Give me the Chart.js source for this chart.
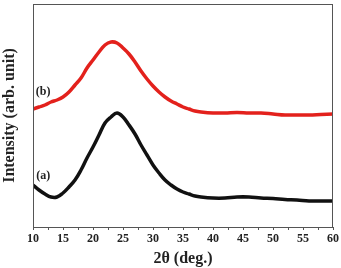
<!DOCTYPE html>
<html>
<head>
<meta charset="utf-8">
<script src="https://cdn.jsdelivr.net/npm/chart.js@4"></script>
<style>
    html, body { margin: 0; padding: 0; background: #fff; }
    #wrap { width: 341px; height: 268px; position: relative; }
</style>
</head>
<body>
<div id="wrap"><canvas id="xrd"></canvas></div>
<script>
// 2θ positions (deg.)
const twoTheta = [10, 11, 12, 13, 14, 15, 16, 17, 18, 19, 20, 21, 22, 23, 24, 25, 26, 27, 28, 29,
    30, 31, 32, 33, 34, 35, 36, 37, 38, 40, 42, 44, 46, 48, 50, 52, 54, 56, 58, 60];

// curve (a), black
const curveA = [44, 39, 35, 32, 32, 36, 42, 49, 59, 71, 82, 94, 106, 112, 116, 112, 104, 95, 84, 74,
    64, 56, 49, 44, 40, 37, 35, 33, 32, 31, 31, 32, 32, 31, 30.5, 29.5, 29, 28, 28, 28];

// curve (b), red
const curveB = [120, 122, 124, 127, 129, 132, 137, 144, 151, 161, 169, 177, 184, 187, 186, 181, 175, 167, 158, 150,
    143, 137, 132, 128, 125, 122, 120, 118, 117, 116, 116, 116.5, 116, 116, 115, 114, 114, 114, 114.5, 115];

const xTicks = [10, 15, 20, 25, 30, 35, 40, 45, 50, 55, 60];

// curve tags, placed in data units
const tags = [
    { text: "(b)", x: 11.7, y: 137 },
    { text: "(a)", x: 11.7, y: 53 }
];

const serif = "'Liberation Serif', 'DejaVu Serif', serif";

// frame and the (a)/(b) tags
const framePlugin = {
    id: "frame",
    afterDraw(chart) {
        const { ctx, chartArea: a, scales } = chart;
        ctx.save();
        ctx.strokeStyle = "#555";
        ctx.lineWidth = 1;
        ctx.strokeRect(a.left + 0.5, a.top + 0.5, a.right - a.left - 1, a.bottom - a.top);

        ctx.fillStyle = "#222";
        ctx.font = "bold 12px " + serif;
        ctx.textAlign = "center";
        ctx.textBaseline = "middle";
        tags.forEach(tg => {
            ctx.fillText(tg.text, scales.x.getPixelForValue(tg.x), scales.y.getPixelForValue(tg.y));
        });
        ctx.restore();
    }
};

new Chart(document.getElementById("xrd"), {
    type: "line",
    data: {
        datasets: [
            {
                label: "(b)",
                data: twoTheta.map((x, i) => ({ x, y: curveB[i] })),
                borderColor: "#e3211c",
                borderWidth: 3.5,
                pointRadius: 0,
                tension: 0.4
            },
            {
                label: "(a)",
                data: twoTheta.map((x, i) => ({ x, y: curveA[i] })),
                borderColor: "#111",
                borderWidth: 3.5,
                pointRadius: 0,
                tension: 0.4
            }
        ]
    },
    options: {
        responsive: true,
        maintainAspectRatio: false,
        animation: false,
        layout: { padding: { top: 4, right: 8, left: 0, bottom: 0 } },
        plugins: { legend: { display: false }, tooltip: { enabled: false } },
        scales: {
            x: {
                type: "linear",
                min: 10,
                max: 60,
                afterFit: s => { s.height = 41; },
                border: { display: false },
                grid: {
                    display: true,
                    drawOnChartArea: false,
                    drawTicks: true,
                    tickLength: 3,
                    color: "#555"
                },
                ticks: {
                    stepSize: 2.5,
                    autoSkip: false,
                    maxRotation: 0,
                    padding: 2,
                    color: "#222",
                    font: { family: serif, size: 12, weight: "bold" },
                    callback: v => (xTicks.includes(v) ? v : "")
                },
                title: {
                    display: true,
                    text: "2θ (deg.)",
                    color: "#222",
                    padding: 0,
                    font: { family: serif, size: 16, weight: "bold" }
                }
            },
            y: {
                min: 2,
                max: 225,
                afterFit: s => { s.width = 33; },
                border: { display: false },
                grid: { display: false },
                ticks: { display: false },
                title: {
                    display: true,
                    text: "Intensity (arb. unit)",
                    color: "#222",
                    padding: 0,
                    font: { family: serif, size: 16, weight: "bold" }
                }
            }
        }
    },
    plugins: [framePlugin]
});
</script>
</body>
</html>
